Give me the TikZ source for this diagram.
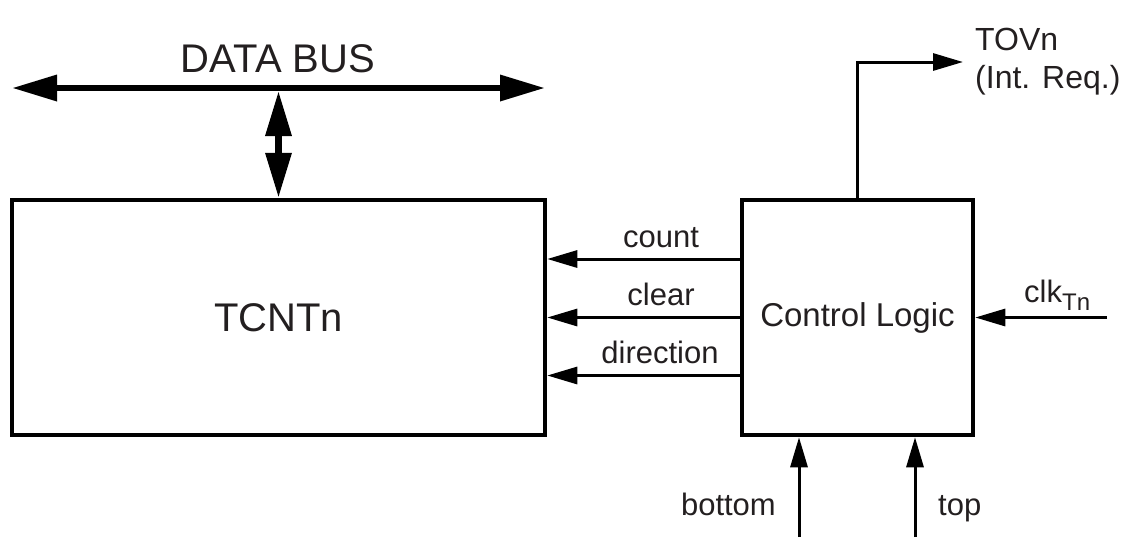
\documentclass[tikz,border=0pt]{standalone}
\usepackage{fontspec}
\setmainfont{Liberation Sans}
\usetikzlibrary{arrows.meta}
\definecolor{txt}{HTML}{231F20}
\begin{document}
\begin{tikzpicture}[x=1pt,y=-1pt,
  box/.style={draw, line width=4.5pt, rectangle, inner sep=0pt},
  sarrow/.style={line width=3pt, -{Triangle[length=30pt,width=17pt]}},
  busarrow/.style={line width=6.5pt, {Triangle[length=45pt,width=25pt]}-{Triangle[length=45pt,width=25pt]}},
  lbl/.style={anchor=base, inner sep=0pt, text=txt, font=\fontsize{31}{31}\selectfont},
]
\useasboundingbox (0,0) rectangle (1137,558);
% boxes
\node[box, text=txt, minimum width=533pt, minimum height=235pt, font=\fontsize{40}{40}\selectfont] (tcnt) at (278.5,317.5) {TCNTn};
\node[box, text=txt, minimum width=231pt, minimum height=235pt, font=\fontsize{33}{33}\selectfont] (ctl) at (857.5,317.5) {Control Logic};
% data bus
\coordinate (busL) at (12,88);
\coordinate (busR) at (545,88);
\coordinate (busM) at (278.5,91);
\node[anchor=base, inner sep=0pt, text=txt, font=\fontsize{40}{40}\selectfont] (dbus) at (278,72) {DATA BUS};
\draw[busarrow] (busL) -- (busR);
\draw[busarrow] (busM) -- (tcnt.north);
% signals to TCNTn
\draw[sarrow] ([yshift=58.5pt]ctl.west) -- ([yshift=58.5pt]tcnt.east);
\draw[sarrow] (ctl.west) -- (tcnt.east);
\draw[sarrow] ([yshift=-58pt]ctl.west) -- ([yshift=-58pt]tcnt.east);
\node[lbl] (lcount) at (661,247) {count};
\node[lbl] (lclear) at (661,305) {clear};
\node[lbl] (ldir) at (660,363) {direction};
% clk
\coordinate (clkin) at (1107,317.5);
\draw[sarrow] (clkin) -- (ctl.east);
\node[lbl, anchor=base west] (lclk) at (1024,302) {clk\raisebox{-8pt}{\fontsize{24}{24}\selectfont Tn}};
% bottom / top
\coordinate (bin) at (799,537);
\coordinate (tin) at (915,537);
\draw[sarrow] (bin) -- (bin |- ctl.south);
\draw[sarrow] (tin) -- (tin |- ctl.south);
\node[lbl, anchor=base east] (lbot) at (776,515) {bottom};
\node[lbl, anchor=base west] (ltop) at (938,515) {top};
% TOVn
\coordinate (tovend) at (963,62);
\draw[sarrow] (ctl.north) |- (tovend);
\node[lbl, anchor=base west, font=\fontsize{32}{32}\selectfont] (ltov) at (975,50) {TOVn};
\node[lbl, anchor=base west, font=\fontsize{32}{32}\selectfont] (lint) at (975,88) {(Int. Req.)};
\end{tikzpicture}
\end{document}
